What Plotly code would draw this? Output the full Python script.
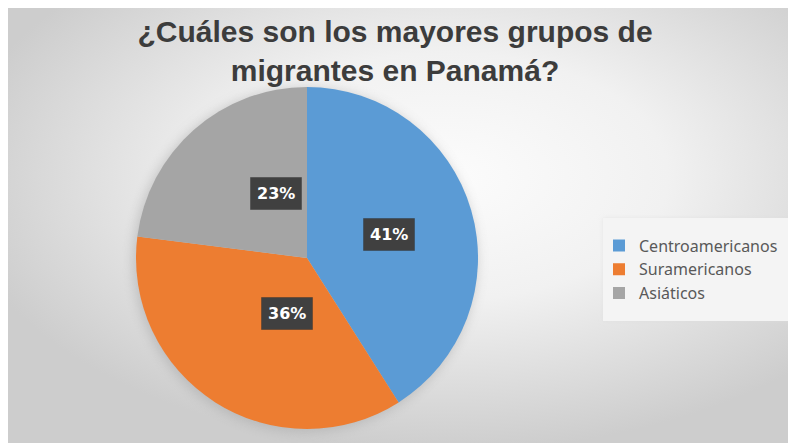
import math
import base64
import plotly.graph_objects as go

# ---- data ----
labels = ["Centroamericanos", "Suramericanos", "Asiáticos"]
values = [41, 36, 23]
colors = ["#5B9BD5", "#ED7D31", "#A5A5A5"]
title_text = "¿Cuáles son los mayores grupos de<br>migrantes en Panamá?"

W, H = 796, 443

# layout geometry (figure pixel coordinates)
cx_px, cy_px, r_px = 299, 250, 171          # pie centre / radius
leg_x0, leg_y0, leg_w, leg_h = 595, 210, 190, 103   # legend panel

# ---- background (radial gradient panel + soft pie shadow + legend panel) ----
svg = f"""<svg xmlns='http://www.w3.org/2000/svg' width='{W}' height='{H}'>
<defs>
<radialGradient id='g' cx='0.55' cy='0.38' r='0.62'>
<stop offset='0' stop-color='#fcfcfc'/>
<stop offset='0.45' stop-color='#f1f1f1'/>
<stop offset='1' stop-color='#cdcdcd'/>
</radialGradient>
<filter id='b' x='-20%' y='-20%' width='140%' height='140%'><feGaussianBlur stdDeviation='6'/></filter>
<filter id='b2' x='-20%' y='-20%' width='140%' height='140%'><feGaussianBlur stdDeviation='2'/></filter>
<filter id='b3' x='-30%' y='-30%' width='160%' height='160%'><feGaussianBlur stdDeviation='1.5'/></filter>
</defs>
<rect x='0' y='0' width='{W}' height='{H}' fill='url(#g)'/>
<circle cx='{cx_px - 2}' cy='{cy_px + 2}' r='{r_px + 1}' fill='#9a9a9a' opacity='0.45' filter='url(#b)'/>
<rect x='{leg_x0}' y='{leg_y0}' width='{leg_w}' height='{leg_h}' fill='#dcdcdc' opacity='0.6' filter='url(#b2)'/>
<rect x='{leg_x0}' y='{leg_y0}' width='{leg_w}' height='{leg_h}' fill='#f4f4f4'/>
</svg>"""
bg_src = "data:image/svg+xml;base64," + base64.b64encode(svg.encode()).decode()

dom_x = [(cx_px - r_px) / W, (cx_px + r_px) / W]
dom_y = [1 - (cy_px + r_px) / H, 1 - (cy_px - r_px) / H]

fig = go.Figure(
    go.Pie(
        labels=labels,
        values=values,
        marker=dict(colors=colors, line=dict(width=0)),
        sort=False,
        direction="clockwise",
        rotation=0,
        textinfo="none",
        hoverinfo="label+percent",
        domain=dict(x=dom_x, y=dom_y),
    )
)

# data labels in dark boxes, positioned from slice mid-angles
total = sum(values)
cum = 0
for v in values:
    mid = (cum + v / 2) / total * 2 * math.pi
    cum += v
    rr = 0.5 * r_px
    px = cx_px + rr * math.sin(mid)
    py = cy_px - rr * math.cos(mid)
    pct = f"<b>{round(v / total * 100)}%</b>"
    fig.add_annotation(
        x=px / W, y=1 - py / H, xref="paper", yref="paper",
        text=pct, showarrow=False,
        font=dict(family="DejaVu Sans", size=16, color="white"),
        bgcolor="#404040", borderpad=6,
        bordercolor="rgba(40,40,40,0.35)", borderwidth=1,
    )

fig.update_layout(
    width=W,
    height=H,
    margin=dict(l=0, r=0, t=0, b=0),
    paper_bgcolor="white",
    images=[dict(source=bg_src, xref="paper", yref="paper", x=0, y=1,
                 sizex=1, sizey=1, xanchor="left", yanchor="top",
                 sizing="stretch", layer="below")],
    title=dict(
        text=title_text,
        x=387 / W, xanchor="center",
        yref="container", y=1 - 34 / H, yanchor="middle",
        font=dict(family="Liberation Sans", size=30, color="#3c3c3c", weight="bold"),
    ),
    legend=dict(
        x=(leg_x0 - 4) / W, xanchor="left",
        y=1 - (leg_y0 + leg_h / 2) / H, yanchor="middle",
        bgcolor="rgba(0,0,0,0)",
        borderwidth=0,
        font=dict(family="Noto Sans", size=16, color="#595959"),
        itemwidth=30,
    ),
    showlegend=True,
)

fig.write_html("out.html")
